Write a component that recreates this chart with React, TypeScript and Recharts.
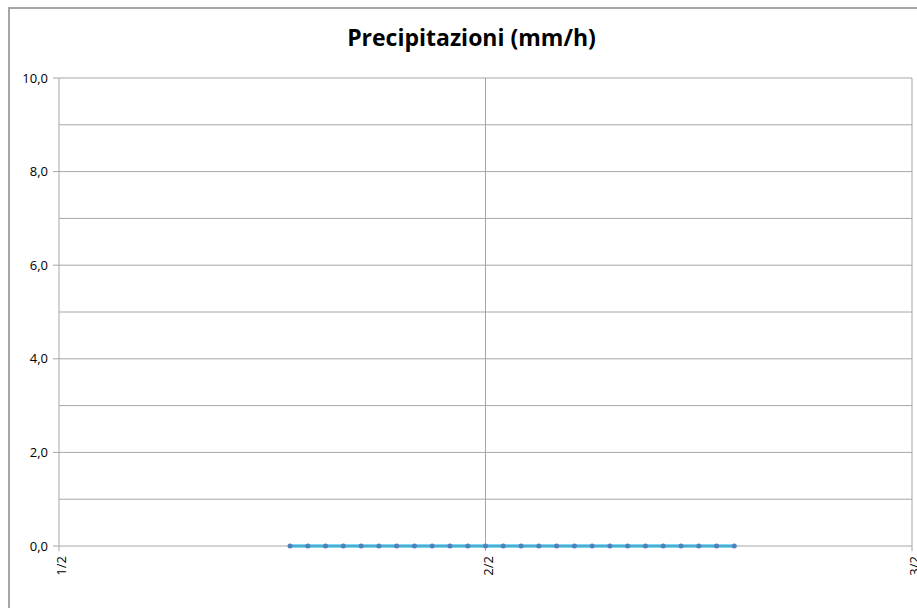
import React from 'react';
import { LineChart, Line, XAxis, YAxis, CartesianGrid } from 'recharts';

// ore dal 1/2 00:00
const ore = [13, 14, 15, 16, 17, 18, 19, 20, 21, 22, 23, 24, 25, 26, 27, 28, 29, 30, 31, 32, 33, 34, 35, 36, 37, 38];
const pioggia = [0, 0, 0, 0, 0, 0, 0, 0, 0, 0, 0, 0, 0, 0, 0, 0, 0, 0, 0, 0, 0, 0, 0, 0, 0, 0];

const xTicks = [0, 24, 48];
const xLabels = ['1/2', '2/2', '3/2'];
const yTicks = [0, 2, 4, 6, 8, 10];
const yGrid = [1, 2, 3, 4, 5, 6, 7, 8, 9, 10];

const data = ore.map((h, i) => ({ ora: h, mm: pioggia[i] }));

const FONT = '"Open Sans", Lato, sans-serif';
const GRID = '#a6a6a6';

function DayTick(props: any) {
  const { x, y, payload } = props;
  const idx = xTicks.indexOf(payload.value);
  const cx = x + 2;
  const cy = y + 3;
  return (
    <text
      x={cx}
      y={cy}
      transform={`rotate(-90, ${cx}, ${cy})`}
      textAnchor="end"
      dominantBaseline="central"
      fontSize={13}
      fontFamily={FONT}
      fill="#000"
    >
      {xLabels[idx]}
    </text>
  );
}

export default function App() {
  return (
    <div style={{ position: 'absolute', left: 0, top: 0, width: 917, height: 608, overflow: 'hidden', background: '#fff' }}>
      <div
        style={{
          position: 'absolute',
          left: 8,
          top: 7,
          width: 940,
          height: 640,
          border: `2px solid ${GRID}`,
          boxSizing: 'border-box',
        }}
      />
      <div
        style={{
          position: 'absolute',
          left: 0,
          width: 943,
          top: 21,
          textAlign: 'center',
          fontFamily: FONT,
          fontWeight: 700,
          fontSize: 23,
          color: '#000',
        }}
      >
        Precipitazioni (mm/h)
      </div>
      <div style={{ position: 'absolute', left: 0, top: 0 }}>
        <LineChart width={917} height={608} data={data} margin={{ top: 78, right: 5, left: 9, bottom: 22 }}>
          <CartesianGrid
            stroke={GRID}
            strokeWidth={1}
            horizontalValues={yGrid}
            verticalValues={[24, 48]}
          />
          <XAxis
            dataKey="ora"
            type="number"
            domain={[0, 48]}
            ticks={xTicks}
            height={40}
            axisLine={{ stroke: GRID }}
            tickLine={{ stroke: GRID }}
            tickSize={5}
            tick={<DayTick />}
            interval={0}
          />
          <YAxis
            domain={[0, 10]}
            ticks={yTicks}
            width={50}
            axisLine={{ stroke: GRID }}
            tickLine={{ stroke: GRID }}
            tickSize={6}
            tickMargin={5}
            tickFormatter={(v: number) => v.toFixed(1).replace('.', ',')}
            tick={{ fontSize: 13, fontFamily: FONT, fill: '#000' }}
            interval={0}
          />
          <Line
            type="linear"
            dataKey="mm"
            stroke="#00b0f0"
            strokeWidth={3}
            dot={{ r: 2.5, fill: '#4f81bd', stroke: 'none' }}
            isAnimationActive={false}
          />
        </LineChart>
      </div>
    </div>
  );
}
